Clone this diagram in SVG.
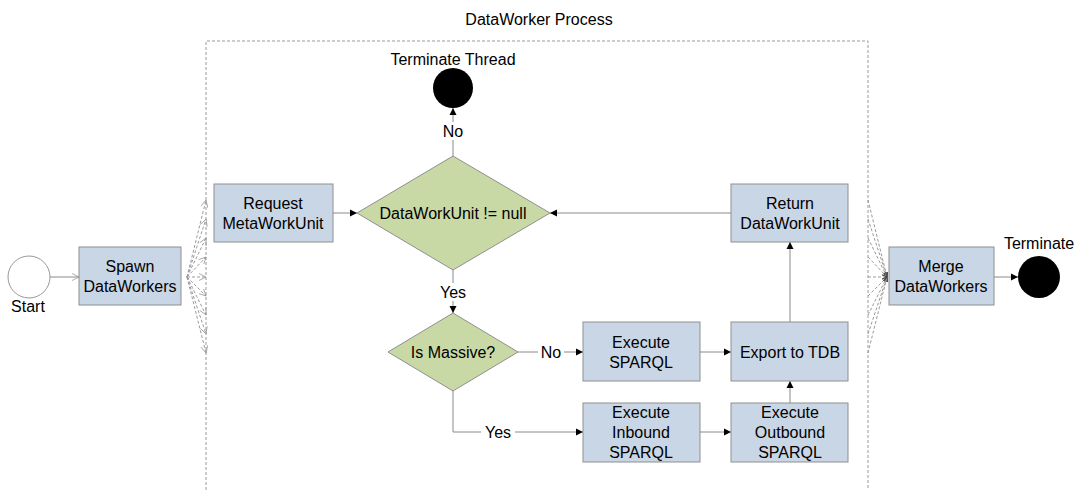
<svg xmlns="http://www.w3.org/2000/svg" width="1078" height="490" viewBox="0 0 1078 490">
<style>
text{font-family:"Liberation Sans",Arial,sans-serif;font-size:16px;fill:#000;text-anchor:middle;dominant-baseline:central}
.box{fill:#c9d6e5;stroke:#8f8f8f;stroke-width:1}
.dia{fill:#c9d9a6;stroke:#8f8f8f;stroke-width:1}
.ln{fill:none;stroke:#8a8a8a;stroke-width:1}
.ds{fill:none;stroke:#9a9a9a;stroke-width:1;stroke-dasharray:3,2}
.lbl{fill:#fff}
</style>
<defs>
<marker id="ah" markerWidth="8" markerHeight="8" refX="7" refY="4" orient="auto" markerUnits="userSpaceOnUse"><path d="M0,0.5 L7,4 L0,7.5 Z" fill="#000"/></marker>
<marker id="oh" markerWidth="8" markerHeight="8" refX="7" refY="4" orient="auto" markerUnits="userSpaceOnUse"><path d="M0,0.5 L7,4 L0,7.5" fill="none" stroke="#999" stroke-width="0.8"/></marker>
<marker id="sh" markerWidth="6" markerHeight="6" refX="5" refY="3" orient="auto" markerUnits="userSpaceOnUse"><path d="M0,1 L5,3 L0,5" fill="none" stroke="#444" stroke-width="0.8"/></marker>
</defs>
<g id="container">
<path class="ds" d="M206,490 V41 H868 V490"/>
<text x="539" y="19">DataWorker Process</text>
</g>
<g id="connectors">
<path class="ln" d="M50,277 H79" marker-end="url(#oh)"/>
<g id="fanout">
<path class="ds" d="M187,277 L206,200" marker-end="url(#oh)"/>
<path class="ds" d="M187,277 L206,219" marker-end="url(#oh)"/>
<path class="ds" d="M187,277 L206,238" marker-end="url(#oh)"/>
<path class="ds" d="M187,277 L206,257" marker-end="url(#oh)"/>
<path class="ds" d="M187,277 L206,277" marker-end="url(#oh)"/>
<path class="ds" d="M187,277 L206,296" marker-end="url(#oh)"/>
<path class="ds" d="M187,277 L206,315" marker-end="url(#oh)"/>
<path class="ds" d="M187,277 L206,334" marker-end="url(#oh)"/>
<path class="ds" d="M187,277 L206,353" marker-end="url(#oh)"/>
</g>
<g id="fanin">
<path class="ds" d="M868,200 L887,277" marker-end="url(#sh)"/>
<path class="ds" d="M868,219 L887,277" marker-end="url(#sh)"/>
<path class="ds" d="M868,238 L887,277" marker-end="url(#sh)"/>
<path class="ds" d="M868,257 L887,277" marker-end="url(#sh)"/>
<path class="ds" d="M868,277 L887,277" marker-end="url(#sh)"/>
<path class="ds" d="M868,296 L887,277" marker-end="url(#sh)"/>
<path class="ds" d="M868,315 L887,277" marker-end="url(#sh)"/>
<path class="ds" d="M868,334 L887,277" marker-end="url(#sh)"/>
<path class="ds" d="M868,353 L887,277" marker-end="url(#sh)"/>
</g>
<path class="ln" d="M333,213 H357" marker-end="url(#ah)"/>
<path class="ln" d="M453,156 V108" marker-end="url(#ah)"/>
<path class="ln" d="M731,213 H550" marker-end="url(#ah)"/>
<path class="ln" d="M453,270 V313" marker-end="url(#ah)"/>
<path class="ln" d="M518,352 H583" marker-end="url(#ah)"/>
<path class="ln" d="M700,352 H731" marker-end="url(#ah)"/>
<path class="ln" d="M790,322 V242" marker-end="url(#ah)"/>
<path class="ln" d="M453,391 V432 H583" marker-end="url(#ah)"/>
<path class="ln" d="M700,432 H731" marker-end="url(#ah)"/>
<path class="ln" d="M790,403 V381" marker-end="url(#ah)"/>
<path class="ln" d="M994,277 H1018" marker-end="url(#ah)"/>
<rect class="lbl" x="440" y="122" width="26" height="18"/>
<text x="453" y="131">No</text>
<rect class="lbl" x="436" y="283" width="34" height="18"/>
<text x="453" y="292">Yes</text>
<rect class="lbl" x="538" y="343" width="26" height="18"/>
<text x="551" y="352">No</text>
<rect class="lbl" x="481" y="423" width="34" height="18"/>
<text x="498" y="432">Yes</text>
</g>
<g id="start">
<circle cx="29" cy="277" r="21" fill="#fff" stroke="#999"/>
<text x="28" y="306">Start</text>
</g>
<g id="spawn">
<rect class="box" x="79" y="247" width="102" height="58"/>
<text x="130" y="266">Spawn</text>
<text x="130" y="286">DataWorkers</text>
</g>
<g id="request">
<rect class="box" x="214" y="184" width="119" height="58"/>
<text x="273" y="203">Request</text>
<text x="273" y="223">MetaWorkUnit</text>
</g>
<g id="check">
<polygon class="dia" points="453,156 550,213 453,270 357,213"/>
<text x="453" y="213">DataWorkUnit != null</text>
</g>
<g id="terminateThread">
<circle cx="453" cy="88" r="20" fill="#000"/>
<text x="453" y="59">Terminate Thread</text>
</g>
<g id="return">
<rect class="box" x="731" y="184" width="117" height="58"/>
<text x="790" y="203">Return</text>
<text x="790" y="223">DataWorkUnit</text>
</g>
<g id="massive">
<polygon class="dia" points="453,313 518,352 453,391 388,352"/>
<text x="453" y="352">Is Massive?</text>
</g>
<g id="execSparql">
<rect class="box" x="583" y="322" width="117" height="59"/>
<text x="641" y="342">Execute</text>
<text x="641" y="362">SPARQL</text>
</g>
<g id="export">
<rect class="box" x="731" y="322" width="117" height="59"/>
<text x="790" y="352">Export to TDB</text>
</g>
<g id="execInbound">
<rect class="box" x="583" y="403" width="117" height="59"/>
<text x="641" y="412">Execute</text>
<text x="641" y="432">Inbound</text>
<text x="641" y="452">SPARQL</text>
</g>
<g id="execOutbound">
<rect class="box" x="731" y="403" width="117" height="59"/>
<text x="790" y="412">Execute</text>
<text x="790" y="432">Outbound</text>
<text x="790" y="452">SPARQL</text>
</g>
<g id="merge">
<rect class="box" x="889" y="247" width="105" height="58"/>
<text x="941" y="266">Merge</text>
<text x="941" y="286">DataWorkers</text>
</g>
<g id="terminate">
<circle cx="1039" cy="277" r="21" fill="#000"/>
<text x="1039" y="243">Terminate</text>
</g>
</svg>
